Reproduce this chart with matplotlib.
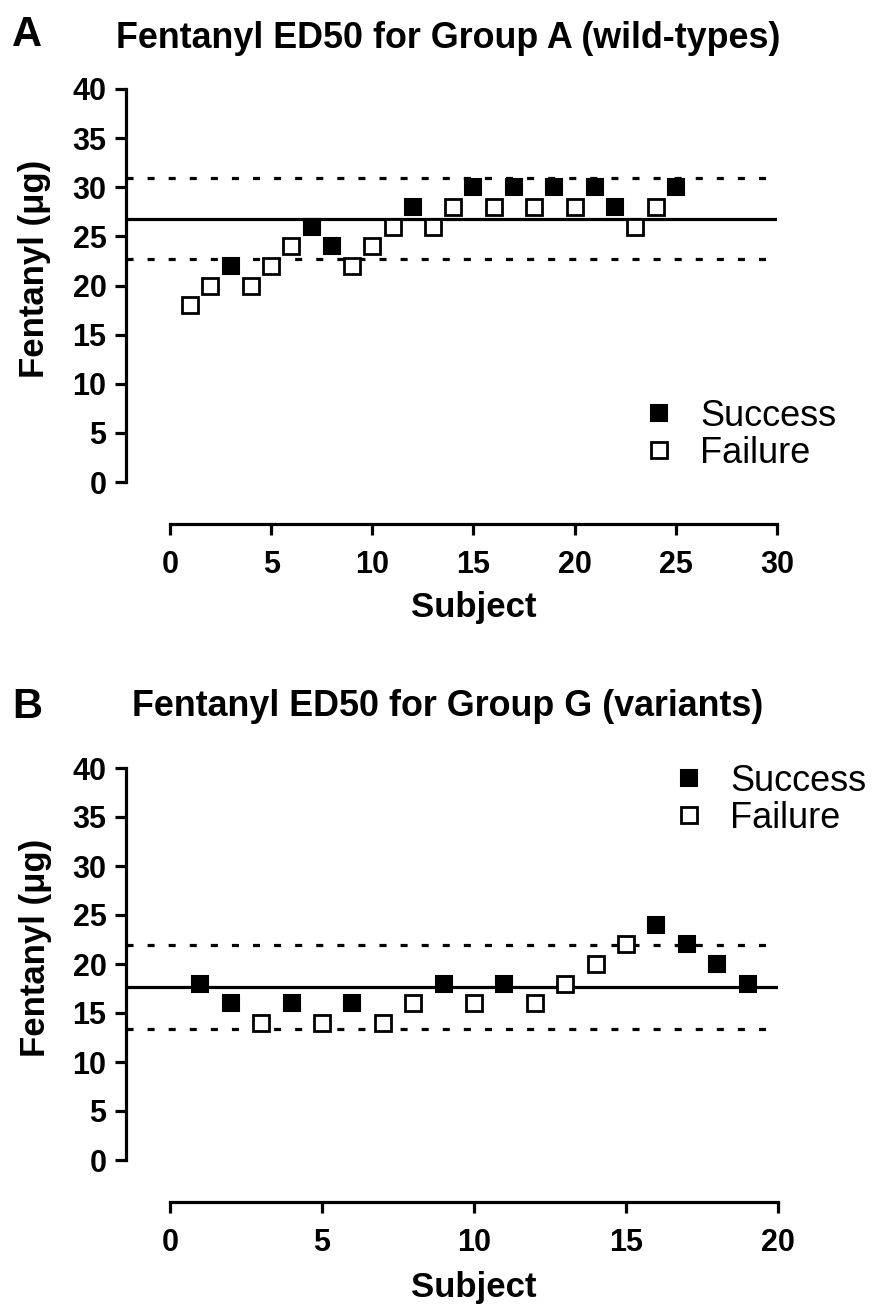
import matplotlib
matplotlib.use('Agg')
import matplotlib.pyplot as plt

plt.rcParams['font.family'] = ['Liberation Sans', 'DejaVu Sans']

# ---------------- data ----------------
subjects_a = list(range(1, 26))
dose_a = [18, 20, 22, 20, 22, 24, 26, 24, 22, 24, 26, 28, 26, 28, 30,
          28, 30, 28, 30, 28, 30, 28, 26, 28, 30]
outcome_a = ['F', 'F', 'S', 'F', 'F', 'F', 'S', 'S', 'F', 'F', 'F', 'S', 'F',
             'F', 'S', 'F', 'S', 'F', 'S', 'F', 'S', 'S', 'F', 'F', 'S']
ed50_a = 26.75
ci_a = [22.7, 30.9]

subjects_b = list(range(1, 20))
dose_b = [18, 16, 14, 16, 14, 16, 14, 16, 18, 16, 18, 16, 18, 20, 22,
          24, 22, 20, 18]
outcome_b = ['S', 'S', 'F', 'S', 'F', 'S', 'F', 'F', 'S', 'F', 'S', 'F', 'F',
             'F', 'F', 'S', 'S', 'S', 'S']
ed50_b = 17.7
ci_b = [13.4, 21.9]

yticks = [0, 5, 10, 15, 20, 25, 30, 35, 40]
xticks_a = [0, 5, 10, 15, 20, 25, 30]
xticks_b = [0, 5, 10, 15, 20]

titles = ['Fentanyl ED50 for Group A (wild-types)',
          'Fentanyl ED50 for Group G (variants)']
panel_letters = ['A', 'B']
ylabel = 'Fentanyl (\u03bcg)'
xlabel = 'Subject'
legend_labels = ['Success', 'Failure']

# ---------------- figure ----------------
W, H = 872, 1308
fig = plt.figure(figsize=(W / 100, H / 100), dpi=100)


def px_axes(left, right, top, bottom):
    return fig.add_axes([left / W, 1 - bottom / H, (right - left) / W, (bottom - top) / H])


def draw_panel(ax, subj, dose, outcome, ed50, ci, xticks, xlim_left, legend_anchor):
    s_x = [x for x, o in zip(subj, outcome) if o == 'S']
    s_y = [y for y, o in zip(dose, outcome) if o == 'S']
    f_x = [x for x, o in zip(subj, outcome) if o == 'F']
    f_y = [y for y, o in zip(dose, outcome) if o == 'F']

    ax.axhline(ed50, color='black', lw=2.3, zorder=1)
    for c in ci:
        ax.axhline(c, color='black', lw=2.3, linestyle=(0, (2.2, 4.4)), zorder=1)

    hs, = ax.plot(s_x, s_y, 's', color='black', markersize=12, mec='black',
                  mew=1.5, linestyle='none', zorder=3)
    hf, = ax.plot(f_x, f_y, 's', mfc='white', mec='black', markersize=11.5,
                  mew=2.0, linestyle='none', zorder=3)

    ax.set_xlim(xlim_left, xticks[-1])
    ax.set_ylim(0, 40)
    ax.set_yticks(yticks)
    ax.set_xticks(xticks)

    for side in ['top', 'right']:
        ax.spines[side].set_visible(False)
    ax.spines['left'].set_linewidth(2.3)
    ax.spines['bottom'].set_linewidth(2.3)
    ax.spines['left'].set_bounds(0, 40)
    ax.spines['bottom'].set_bounds(xticks[0], xticks[-1])
    ax.spines['bottom'].set_position(('outward', 30))

    ax.tick_params(axis='y', direction='out', length=8, width=2.3, pad=6,
                   labelsize=22)
    ax.tick_params(axis='x', direction='out', length=8, width=2.3, pad=11,
                   labelsize=22)
    for lab in ax.get_xticklabels() + ax.get_yticklabels():
        lab.set_fontweight('bold')

    ax.set_ylabel(ylabel, fontsize=25, fontweight='bold', va='center')
    ax.set_xlabel(xlabel, fontsize=25, fontweight='bold', va='center')

    ax.legend([hs, hf], legend_labels, loc='upper left',
              bbox_to_anchor=(legend_anchor[0] / W, 1 - legend_anchor[1] / H),
              bbox_transform=fig.transFigure, frameon=False,
              fontsize=26, handlelength=0.7, handletextpad=0.8,
              labelspacing=0.05, borderpad=0, borderaxespad=0)
    return ax


# Panel A
axA = px_axes(126, 777, 89, 482)
draw_panel(axA, subjects_a, dose_a, outcome_a, ed50_a, ci_a, xticks_a,
           -2.17, (646, 399))
axA.yaxis.set_label_coords((35 - 126) / 651, (482 - 269) / 393)
axA.xaxis.set_label_coords((474 - 126) / 651, (482 - 607) / 393)

# Panel B
axB = px_axes(126, 778, 768, 1160)
draw_panel(axB, subjects_b, dose_b, outcome_b, ed50_b, ci_b, xticks_b,
           -1.45, (676, 764))
axB.yaxis.set_label_coords((35 - 126) / 652, (1160 - 948) / 392)
axB.xaxis.set_label_coords((474 - 126) / 652, (1160 - 1288) / 392)

# titles and panel letters
fig.text(448 / W, 1 - 38 / H, titles[0], ha='center', va='center',
         fontsize=25.8, fontweight='bold')
fig.text(448 / W, 1 - 707 / H, titles[1], ha='center', va='center',
         fontsize=25.8, fontweight='bold')
fig.text(27 / W, 1 - 35 / H, panel_letters[0], ha='center', va='center',
         fontsize=30, fontweight='bold')
fig.text(27 / W, 1 - 707 / H, panel_letters[1], ha='center', va='center',
         fontsize=30, fontweight='bold')

fig.savefig('out.png', dpi=100)
